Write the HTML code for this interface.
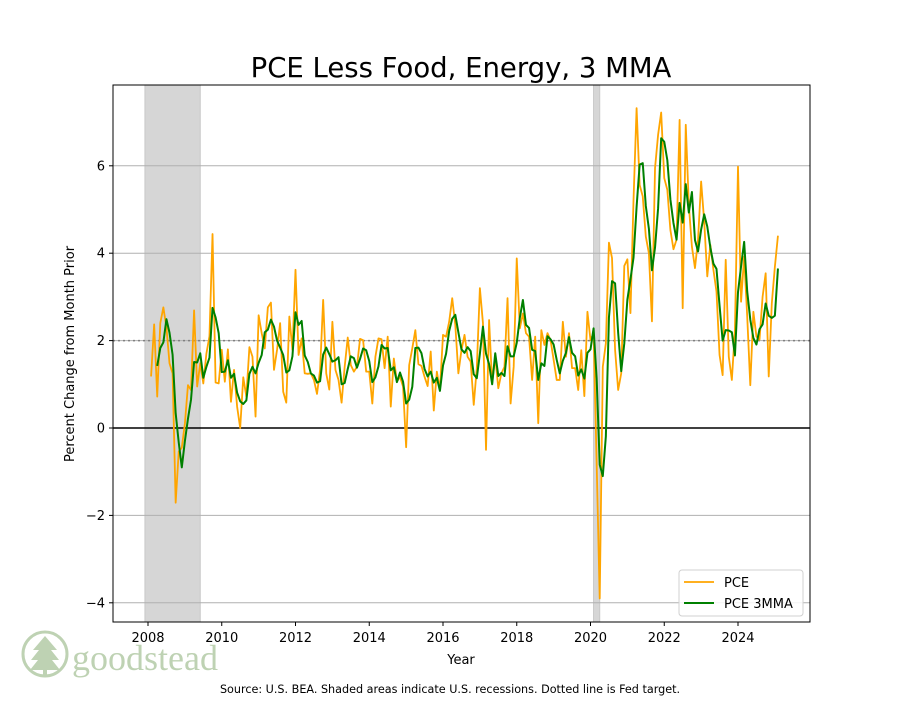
<!DOCTYPE html>
<html><head><meta charset="utf-8"><style>
body{margin:0;background:#fff;}
svg text{font-family:"DejaVu Sans","Liberation Sans",sans-serif;}
</style></head><body>
<svg id="chart" width="900" height="700" xmlns="http://www.w3.org/2000/svg">
<rect width="900" height="700" fill="#fff"/>
<text x="461" y="77" font-size="27.5" text-anchor="middle" fill="#000">PCE Less Food, Energy, 3 MMA</text>
<g id="plot"></g>
<text transform="translate(74,354) rotate(-90)" font-size="13" text-anchor="middle">Percent Change from Month Prior</text>
<text x="461" y="664" font-size="13" text-anchor="middle">Year</text>
<text x="450" y="693" font-size="11.2" text-anchor="middle">Source:  U.S. BEA. Shaded areas indicate U.S. recessions. Dotted line is Fed target.</text>
<g>
<rect x="679" y="570" width="124" height="46" rx="3" fill="#fff" fill-opacity="0.85" stroke="#d0d0d0"/>
<line x1="684" y1="582" x2="714" y2="582" stroke="#FFA500" stroke-width="1.8"/>
<text x="724" y="587" font-size="13">PCE</text>
<line x1="684" y1="603" x2="714" y2="603" stroke="#008000" stroke-width="2"/>
<text x="724" y="608" font-size="13">PCE 3MMA</text>
</g>
<g opacity="0.75">
<circle cx="45" cy="654" r="22" fill="none" stroke="#a9c39a" stroke-width="3"/>
<path d="M45 636 L33 650 L39 650 L31 660 L38 660 L30 670 L60 670 L52 660 L59 660 L51 650 L57 650 Z" fill="#a9c39a"/>
<rect x="43" y="660" width="4" height="15" fill="#a9c39a"/>
<text x="72" y="670" font-size="36" fill="#a9c39a" style="font-family:'Liberation Serif',serif">goodstead</text>
</g>
</svg>
<script>
const pce=[1.18,2.37,0.72,2.4,2.76,2.3,1.48,1.25,-1.71,-0.54,-0.45,0.1,0.98,0.87,2.69,0.95,1.48,1.02,1.7,2.1,4.44,1.04,1.02,1.79,1.06,1.8,0.6,1.33,0.49,0.0,1.16,0.72,1.85,1.63,0.26,2.58,2.17,1.82,2.76,2.87,1.33,1.79,2.4,0.83,0.58,2.55,1.79,3.62,1.67,2.05,1.25,1.24,1.25,1.1,0.78,1.33,2.93,1.25,0.88,2.43,1.33,1.1,0.58,1.4,2.07,1.44,1.29,1.4,2.04,2.01,1.29,1.29,0.56,1.63,2.05,2.03,1.37,2.09,0.49,1.59,1.06,1.17,0.95,-0.44,1.44,1.82,2.24,1.46,1.42,1.17,0.96,1.75,0.4,1.29,0.87,2.13,2.09,2.43,2.97,2.36,1.25,1.78,2.13,1.63,1.52,0.53,1.37,3.2,2.4,-0.5,2.47,1.02,1.63,0.91,1.25,1.4,2.97,0.56,1.4,3.88,2.28,2.62,2.17,2.09,1.1,2.09,0.11,2.24,1.9,2.17,2.01,1.56,1.1,1.1,2.43,1.63,2.17,1.37,1.37,0.87,1.78,0.73,2.66,2.01,2.17,-0.8,-3.9,1.4,1.94,4.24,3.89,1.79,0.87,1.25,3.71,3.86,2.63,5.22,7.32,5.56,5.3,4.38,4.0,2.44,5.95,6.71,7.22,5.72,5.45,4.53,4.09,4.31,7.05,2.74,6.94,5.1,4.15,3.66,4.31,5.64,4.73,3.47,4.19,3.62,3.12,1.67,1.21,3.85,1.63,1.1,2.24,5.98,2.89,3.92,2.55,0.98,2.66,2.09,2.02,3.0,3.54,1.18,2.85,3.69,4.4];
const pce3mma=[null,null,1.42,1.83,1.96,2.49,2.18,1.68,0.34,-0.33,-0.9,-0.3,0.21,0.65,1.51,1.5,1.71,1.15,1.4,1.61,2.75,2.53,2.17,1.28,1.29,1.55,1.15,1.24,0.81,0.61,0.55,0.63,1.24,1.4,1.25,1.49,1.67,2.19,2.25,2.48,2.32,2.0,1.84,1.67,1.27,1.32,1.64,2.65,2.36,2.45,1.66,1.51,1.25,1.2,1.04,1.07,1.68,1.84,1.69,1.52,1.55,1.62,1.0,1.03,1.35,1.64,1.6,1.38,1.58,1.82,1.78,1.53,1.05,1.16,1.41,1.9,1.82,1.83,1.32,1.39,1.05,1.27,1.06,0.56,0.65,0.94,1.83,1.84,1.71,1.35,1.18,1.29,1.04,1.15,0.85,1.43,1.7,2.22,2.5,2.59,2.19,1.8,1.72,1.85,1.76,1.23,1.14,1.7,2.32,1.7,1.46,1.0,1.71,1.19,1.26,1.19,1.87,1.64,1.64,1.95,2.52,2.93,2.36,2.29,1.79,1.76,1.1,1.48,1.42,2.1,2.03,1.91,1.56,1.25,1.54,1.72,2.08,1.72,1.64,1.2,1.34,1.13,1.72,1.8,2.28,1.13,-0.84,-1.1,-0.19,2.53,3.36,3.31,2.18,1.3,1.94,2.94,3.4,3.9,5.06,6.03,6.06,5.08,4.56,3.61,4.13,5.03,6.63,6.55,6.13,5.23,4.69,4.31,5.15,4.7,5.58,4.93,5.4,4.3,4.04,4.54,4.89,4.61,4.13,3.76,3.64,2.8,2.0,2.24,2.23,2.19,1.66,3.11,3.7,4.26,3.12,2.48,2.06,1.91,2.26,2.37,2.85,2.57,2.52,2.57,3.65];
const startYear=2008, startMonth=2;
const yTicks=[-4,-2,0,2,4,6];
const xTicks=[2008,2010,2012,2014,2016,2018,2020,2022,2024];
const recessions=[[2007.917,2009.417],[2020.083,2020.25]];
const fedTarget=2;

const L=113,R=810,T=85,B=622;
const X=t=>148+(t-2008)*36.875;
const Y=v=>428-v*43.7;
const tOf=i=>startYear+(startMonth-1+i)/12;
const NS='http://www.w3.org/2000/svg';
const g=document.getElementById('plot');
function mk(tag,attrs,parent){const e=document.createElementNS(NS,tag);for(const k in attrs)e.setAttribute(k,attrs[k]);(parent||g).appendChild(e);return e;}
const defs=mk('defs',{});const cp=mk('clipPath',{id:'clip'},defs);mk('rect',{x:L,y:T,width:R-L,height:B-T},cp);
recessions.forEach(r=>{const e=mk('rect',{x:X(r[0]),y:T,width:X(r[1])-X(r[0]),height:B-T,fill:'#d6d6d6',stroke:'#c8c8c8'});

});
yTicks.forEach(v=>{const e=mk('line',{x1:L,x2:R,y1:Y(v),y2:Y(v),stroke:'#b0b0b0','stroke-width':1});


mk('line',{x1:L-4,x2:L,y1:Y(v),y2:Y(v),stroke:'#000'});
const t=mk('text',{x:L-8,y:Y(v)+4.5,'font-size':13,'text-anchor':'end'});t.textContent=(v<0?'\u2212'+(-v):v);

});
xTicks.forEach(v=>{mk('line',{x1:X(v),x2:X(v),y1:B,y2:B+4,stroke:'#000'});
const t=mk('text',{x:X(v),y:B+20,'font-size':13,'text-anchor':'middle'});t.textContent=v;

});
const ft=mk('line',{x1:L,x2:R,y1:Y(fedTarget),y2:Y(fedTarget),stroke:'#808080','stroke-width':1.5,'stroke-dasharray':'2,3'});


const z=mk('line',{x1:L,x2:R,y1:Y(0),y2:Y(0),stroke:'#000','stroke-width':1.6});


function path(arr,color,w,name){let d='';arr.forEach((v,i)=>{if(v===null)return;d+=(d?'L':'M')+X(tOf(i)).toFixed(2)+' '+Y(v).toFixed(2);});
const p=mk('path',{d:d,fill:'none',stroke:color,'stroke-width':w,'stroke-linejoin':'round','clip-path':'url(#clip)'});

}
path(pce,'#FFA500',1.8,'pce-line');
path(pce3mma,'#008000',2,'pce-3mma-line');
mk('rect',{x:L,y:T,width:R-L,height:B-T,fill:'none',stroke:'#000','stroke-width':1});
</script>
</body></html>
